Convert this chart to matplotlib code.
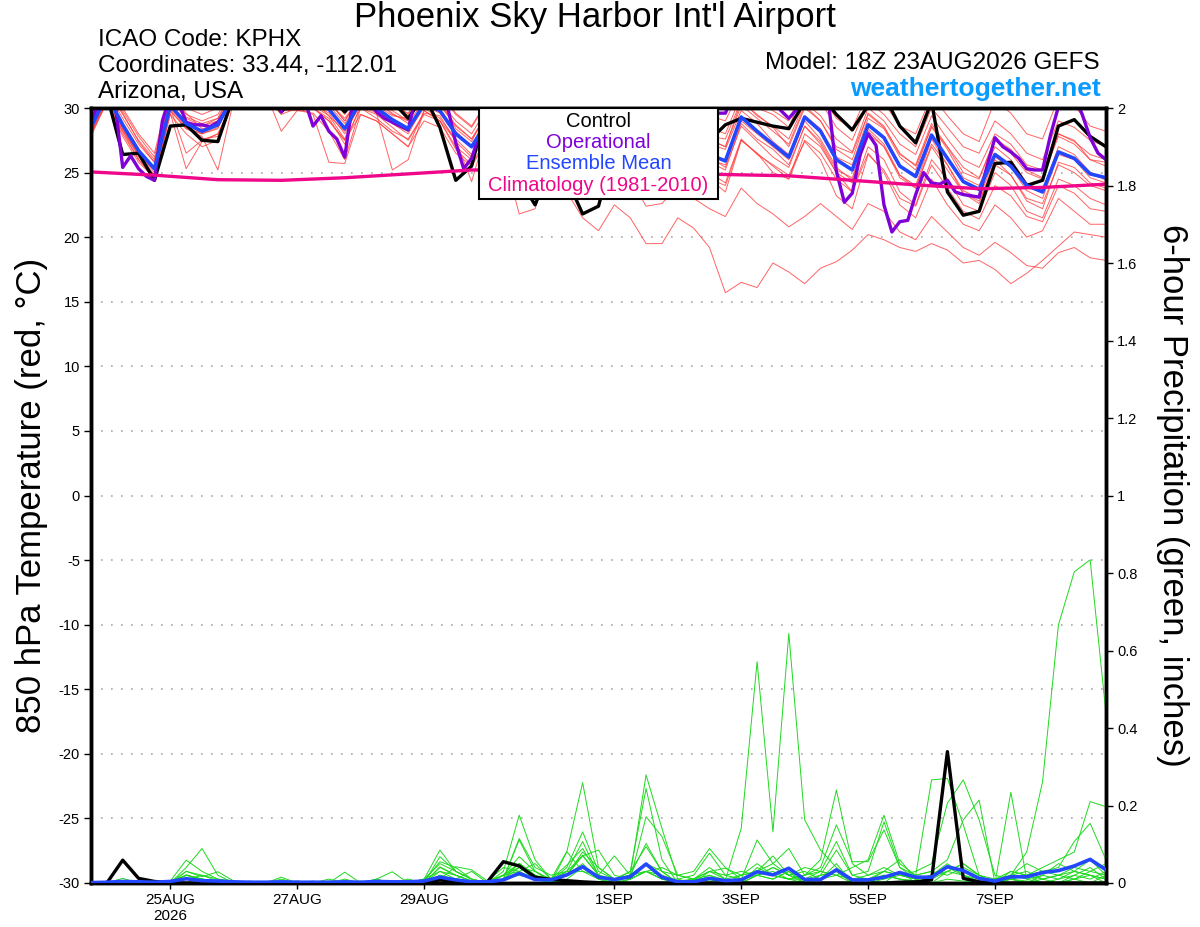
import numpy as np
import matplotlib
matplotlib.use('Agg')
import matplotlib.pyplot as plt
from matplotlib.patches import Rectangle

plt.rcParams['font.family'] = ['Liberation Sans', 'DejaVu Sans']
plt.rcParams['axes.unicode_minus'] = False

# ---- time axis: hours after 18Z 23AUG2026 ----
tick_hours = [30, 78, 126, 198, 246, 294, 342]
tick_labels = ['25AUG\n2026', '27AUG', '29AUG', '1SEP', '3SEP', '5SEP', '7SEP']

# ---- 850 hPa temperature (C), 6-hourly ----
t_control = [30.5, 31.0, 26.4, 26.5, 24.4, 28.6, 28.7, 27.5, 27.4, 31.0, 32.0, 31.5, 29.7,
             31.0, 31.0, 31.0, 29.7, 31.0, 31.0, 30.5, 29.2, 31.0, 28.5, 24.4, 25.5,
             30.5, 27.0, 24.5, 22.5, 25.5, 24.5, 21.8, 22.4, 27.0, 28.0, 26.5, 28.0,
             29.0, 28.5, 27.5, 28.7, 29.2, 28.9, 28.6, 28.4, 30.5, 31.0, 29.5, 28.3,
             30.2, 31.0, 28.6, 27.3, 30.5, 23.5, 21.7, 22.0, 25.7, 25.8, 24.0, 24.4,
             28.6, 29.1, 27.8, 27.0]
t_mean = [28.5, 31.0, 28.7, 26.7, 25.3, 30.2, 28.8, 28.2, 28.7, 31.0, 31.5, 31.5, 30.5,
          30.5, 30.5, 29.9, 28.4, 30.5, 30.0, 29.1, 28.4, 30.3, 29.8, 28.0, 27.0,
          29.0, 28.5, 27.2, 27.0, 28.0, 28.3, 27.0, 26.8, 28.0, 28.3, 27.0, 27.4,
          28.0, 27.2, 26.4, 25.9, 29.3, 28.2, 27.2, 26.2, 29.3, 28.2, 26.0, 25.2,
          28.7, 27.7, 25.5, 24.7, 27.9, 26.1, 24.3, 23.7, 26.4, 25.5, 24.0, 23.5,
          26.6, 26.1, 24.9, 24.6]

# operational run, 3-hourly
t_oper = [28.3, 31.0, 31.0, 30.5, 25.4, 26.3, 25.3, 24.7, 24.4, 29.0, 31.0, 30.5, 28.9,
          28.7, 28.7, 28.55, 28.9, 29.8, 31.0, 31.5, 32.0, 32.0, 31.5, 31.0, 29.7,
          31.0, 31.0, 30.5, 28.6, 29.4, 28.2, 27.6, 26.2, 30.5, 31.0, 30.5, 29.7,
          29.2, 28.9, 28.6, 28.3, 31.0, 31.5, 31.5, 31.0, 30.0, 27.3, 25.3, 26.1,
          28.0, 29.5, 30.0, 29.0, 28.0, 27.5, 27.0, 27.5, 28.5, 29.5, 29.8, 29.0,
          28.0, 27.0, 26.5, 27.0, 28.5, 29.5, 30.0, 29.0, 28.5, 27.5, 27.0, 28.0,
          29.5, 30.5, 30.5, 29.5, 29.0, 28.5, 29.6, 29.6, 31.0, 31.0, 31.0, 31.0,
          31.0, 30.5, 29.8, 29.2, 29.9, 31.0, 31.0, 31.0, 30.5, 25.1, 22.7, 23.4,
          26.4, 28.0, 27.1, 22.5, 20.4, 21.2, 21.3, 23.3, 25.0, 24.2, 24.1, 24.4,
          23.5, 23.3, 23.2, 23.1, 25.5, 27.7, 27.0, 26.6, 26.1, 25.3, 25.2, 25.2,
          27.9, 30.1, 31.0, 31.0, 29.5, 27.7, 26.5, 26.0]

# climatology (1981-2010), daily
t_clim = [25.05, 24.8, 24.45, 24.4, 24.6, 24.9, 25.2, 25.2, 25.0, 24.95, 24.85, 24.75,
          24.4, 24.05, 23.75, 23.85, 24.1]

# ensemble members
t_m01 = [29.5, 32.0, 30.0, 28.0, 26.5, 31.5, 30.0, 29.5, 30.0, 32.0, 32.5, 32.5, 31.5,
         31.5, 31.5, 31.0, 29.5, 31.5, 31.0, 30.5, 29.5, 31.5, 31.0, 29.5, 28.5,
         30.5, 30.0, 29.0, 28.5, 30.0, 30.5, 29.0, 28.5, 30.0, 30.5, 29.5, 29.5,
         30.5, 29.5, 28.5, 28.0, 31.0, 30.0, 29.5, 28.5, 31.5, 30.5, 28.5, 27.5,
         30.5, 29.5, 28.0, 27.0, 30.0, 28.5, 27.0, 26.5, 29.0, 28.0, 26.5, 26.0,
         29.0, 28.5, 27.5, 27.0]
t_m02 = [28.0, 30.5, 28.0, 26.0, 24.8, 30.0, 26.5, 27.5, 28.0, 30.5, 31.0, 31.0, 30.0,
         30.5, 30.0, 29.0, 27.5, 30.0, 29.5, 28.5, 27.5, 29.5, 29.0, 27.0, 26.0,
         28.0, 27.5, 26.0, 25.5, 27.0, 27.0, 25.5, 25.0, 27.0, 27.5, 26.0, 26.0,
         27.0, 26.0, 24.5, 23.5, 27.5, 26.5, 25.5, 24.5, 27.5, 26.5, 24.5, 23.5,
         27.0, 26.0, 23.5, 22.5, 26.0, 24.5, 22.5, 22.0, 25.0, 24.0, 22.0, 21.5,
         24.5, 24.0, 23.0, 22.5]
t_m03 = [28.5, 31.0, 28.5, 26.5, 25.0, 30.0, 28.5, 28.0, 28.5, 31.0, 31.0, 31.0, 30.0,
         30.0, 30.0, 29.0, 27.5, 29.5, 29.0, 28.0, 27.0, 29.0, 28.5, 26.5, 25.5,
         27.5, 26.5, 24.5, 23.5, 24.5, 23.5, 21.5, 20.5, 22.5, 21.5, 19.5, 19.5,
         21.5, 20.7, 19.2, 15.7, 16.5, 16.1, 18.0, 17.3, 16.4, 17.6, 18.1, 19.0,
         20.2, 19.8, 19.2, 18.9, 19.5, 19.0, 18.0, 18.2, 17.5, 16.4, 17.2, 18.2,
         19.3, 20.4, 20.2, 20.0]
t_m04 = [29.0, 31.5, 29.5, 27.5, 26.0, 31.0, 29.5, 29.0, 29.5, 31.5, 32.0, 32.0, 31.0,
         31.0, 31.0, 30.5, 29.0, 31.0, 30.5, 29.5, 29.0, 31.0, 30.5, 29.0, 28.0,
         30.0, 29.5, 28.0, 27.5, 29.0, 29.5, 28.0, 27.5, 29.0, 29.0, 28.0, 28.5,
         29.0, 28.0, 27.5, 27.0, 30.5, 29.5, 28.5, 27.0, 30.0, 29.0, 27.0, 26.5,
         29.5, 28.5, 26.5, 25.5, 28.5, 27.0, 25.0, 24.5, 27.5, 26.5, 25.0, 24.5,
         28.0, 27.5, 26.0, 25.5]
t_m05 = [28.0, 30.8, 28.2, 26.0, 24.5, 29.5, 28.0, 27.0, 27.5, 30.5, 31.0, 30.8, 29.5,
         30.0, 29.5, 25.8, 25.7, 29.5, 29.0, 28.0, 27.0, 29.8, 29.0, 27.5, 24.3,
         28.5, 26.5, 21.8, 22.2, 26.0, 26.5, 25.0, 24.5, 27.0, 26.5, 24.0, 25.0,
         26.5, 25.5, 24.5, 24.0, 27.5, 26.5, 25.0, 24.5, 28.0, 27.0, 25.0, 23.5,
         26.5, 25.0, 22.5, 21.5, 24.5, 22.5, 21.0, 20.5, 22.5, 21.5, 20.0, 20.5,
         23.0, 22.0, 21.0, 21.0]
t_m06 = [28.8, 31.3, 29.2, 27.2, 25.8, 30.8, 29.3, 28.8, 29.2, 31.2, 32.0, 31.8, 30.8,
         30.8, 31.0, 30.5, 29.0, 31.0, 30.5, 29.8, 29.0, 31.0, 30.3, 28.7, 27.6,
         29.6, 29.2, 28.3, 28.0, 29.0, 29.2, 28.0, 27.8, 29.2, 29.5, 28.5, 28.6,
         29.6, 28.6, 27.8, 27.6, 30.6, 29.4, 28.6, 27.6, 30.4, 29.4, 27.6, 26.6,
         30.0, 29.0, 27.2, 26.4, 29.4, 27.6, 26.0, 25.4, 28.0, 27.2, 25.6, 25.2,
         28.0, 27.4, 26.4, 26.0]
t_m07 = [27.8, 30.5, 27.8, 25.8, 24.6, 29.6, 25.3, 27.4, 28.0, 30.6, 31.2, 31.0, 29.8,
         29.8, 29.6, 28.2, 26.0, 30.0, 29.2, 28.2, 27.6, 29.6, 29.4, 27.4, 26.2,
         28.4, 27.8, 25.8, 25.6, 27.4, 27.6, 26.2, 26.0, 27.4, 27.8, 26.6, 26.8,
         27.6, 26.8, 26.0, 25.6, 29.0, 28.0, 27.0, 26.0, 29.0, 27.6, 25.4, 24.4,
         28.2, 27.0, 24.6, 23.8, 27.0, 25.2, 23.4, 22.8, 25.6, 24.8, 23.0, 22.6,
         25.6, 25.0, 24.0, 23.6]
t_m08 = [29.2, 31.6, 29.8, 27.8, 26.2, 31.2, 29.6, 28.4, 28.6, 31.4, 32.2, 32.4, 31.4,
         31.2, 30.6, 29.4, 27.6, 30.8, 30.2, 29.4, 29.2, 31.2, 30.6, 28.4, 27.4,
         29.8, 29.0, 27.6, 27.2, 28.6, 28.8, 27.2, 26.6, 28.4, 28.6, 26.6, 27.4,
         28.6, 27.8, 27.2, 26.8, 29.8, 28.8, 27.4, 26.4, 29.4, 28.4, 26.2, 25.6,
         29.2, 28.4, 26.2, 25.2, 28.6, 26.8, 24.6, 24.0, 27.0, 26.0, 24.2, 23.6,
         27.0, 26.4, 25.0, 24.4]
t_m09 = [28.4, 30.9, 28.6, 26.6, 25.4, 30.2, 28.6, 27.6, 27.8, 30.8, 31.4, 31.6, 30.6,
         30.6, 30.8, 30.2, 28.8, 30.6, 30.0, 28.8, 28.0, 30.2, 29.6, 28.0, 27.0,
         29.0, 28.6, 27.4, 27.0, 28.2, 28.4, 27.0, 26.6, 28.0, 28.4, 27.2, 27.2,
         28.2, 27.0, 25.8, 25.2, 28.8, 27.6, 26.8, 25.6, 28.6, 27.2, 25.0, 24.2,
         28.0, 27.0, 24.8, 24.0, 27.6, 25.6, 23.6, 23.0, 26.2, 25.4, 23.6, 23.0,
         26.4, 26.0, 24.6, 24.2]
t_m10 = [28.6, 31.2, 28.8, 26.8, 25.2, 30.4, 28.8, 28.0, 28.4, 31.0, 31.6, 31.4, 30.4,
         30.4, 30.4, 29.6, 28.0, 30.4, 29.8, 29.0, 28.2, 30.0, 29.2, 27.6, 26.4,
         28.4, 27.2, 25.4, 24.6, 26.2, 25.8, 24.2, 23.6, 25.2, 24.6, 22.4, 22.6,
         24.0, 23.0, 22.2, 21.6, 23.8, 22.6, 21.8, 20.8, 21.6, 22.6, 21.6, 20.6,
         22.6, 22.0, 20.4, 19.8, 21.6, 20.4, 19.2, 18.6, 19.6, 18.8, 17.8, 17.6,
         18.8, 19.2, 18.4, 18.2]
t_m11 = [28.2, 30.6, 28.4, 26.4, 24.8, 30.0, 28.8, 28.6, 29.0, 31.2, 31.8, 31.6, 30.6,
         30.6, 31.0, 30.4, 29.2, 30.8, 30.6, 29.6, 28.8, 30.6, 30.2, 28.6, 27.6,
         29.6, 29.6, 28.6, 28.4, 29.6, 29.8, 28.6, 28.2, 29.6, 30.0, 28.4, 28.0,
         29.2, 28.4, 27.6, 27.0, 30.2, 29.2, 28.2, 27.2, 30.2, 29.0, 26.8, 26.0,
         29.6, 28.6, 26.4, 25.6, 28.8, 27.0, 25.4, 24.6, 27.6, 26.8, 25.2, 24.6,
         27.8, 27.2, 26.0, 25.8]
t_m12 = [28.6, 31.0, 28.4, 26.2, 24.7, 29.8, 28.4, 28.0, 28.8, 31.0, 31.2, 31.0, 30.2,
         30.2, 30.2, 29.4, 28.2, 30.2, 29.8, 28.8, 28.2, 30.4, 29.8, 28.2, 27.0,
         28.8, 28.4, 27.2, 26.8, 28.0, 28.4, 26.8, 26.6, 28.2, 28.4, 26.8, 26.4,
         27.6, 26.8, 26.2, 25.4, 28.6, 27.4, 26.2, 25.4, 28.6, 27.4, 25.2, 24.6,
         28.4, 27.2, 24.8, 23.8, 27.2, 25.6, 23.4, 22.6, 26.0, 24.8, 22.8, 22.2,
         25.8, 25.4, 24.2, 23.8]
t_m13 = [29.4, 31.8, 29.6, 27.4, 25.8, 30.6, 29.2, 28.6, 29.2, 31.6, 32.4, 32.2, 31.2,
         31.4, 31.4, 30.8, 29.6, 31.4, 31.2, 30.2, 29.6, 31.6, 31.2, 29.6, 28.6,
         30.6, 30.4, 29.2, 28.8, 30.2, 30.6, 29.4, 29.2, 30.6, 30.8, 29.6, 29.4,
         30.8, 30.0, 29.4, 29.0, 31.6, 30.8, 29.8, 29.0, 31.8, 31.0, 29.2, 28.4,
         31.2, 30.4, 28.6, 28.0, 31.0, 29.4, 28.0, 27.4, 30.6, 29.6, 28.0, 27.6,
         30.8, 30.2, 28.6, 28.2]
t_m14 = [28.0, 30.4, 28.2, 26.4, 25.2, 29.8, 28.4, 27.8, 25.2, 30.6, 31.4, 31.2, 28.2,
         29.8, 30.0, 29.2, 27.2, 30.2, 29.6, 25.2, 26.0, 29.8, 29.0, 26.8, 25.6,
         27.8, 27.4, 26.2, 25.8, 27.2, 27.0, 25.2, 24.4, 26.4, 26.8, 25.2, 25.6,
         26.8, 26.0, 25.0, 24.2, 27.6, 26.4, 25.6, 24.8, 27.4, 26.0, 23.2, 22.2,
         26.4, 25.2, 23.0, 22.4, 25.6, 23.8, 22.0, 21.4, 24.0, 23.2, 21.6, 21.2,
         24.0, 23.4, 22.2, 22.0]

# ---- 6-hour precipitation (inches) ----
p_control = [0, 0, 0.059, 0.012, 0.004, 0.001, 0, 0, 0, 0, 0, 0, 0,
             0, 0, 0, 0, 0, 0, 0, 0, 0, 0.008, 0.002, 0,
             0.003, 0.055, 0.044, 0.015, 0.009, 0.006, 0.003, 0.001, 0, 0, 0, 0,
             0, 0, 0, 0, 0, 0, 0, 0, 0, 0, 0, 0,
             0, 0, 0.002, 0.003, 0.008, 0.339, 0.012, 0.003, 0, 0, 0, 0,
             0, 0, 0, 0]
p_mean = [0.001, 0.002, 0.004, 0.003, 0.002, 0.004, 0.011, 0.006, 0.005, 0.003, 0.002, 0.002, 0.003,
          0.002, 0.002, 0.002, 0.003, 0.002, 0.004, 0.003, 0.003, 0.005, 0.015, 0.008, 0.003,
          0.003, 0.008, 0.025, 0.009, 0.008, 0.021, 0.042, 0.015, 0.009, 0.016, 0.049, 0.015,
          0.003, 0.003, 0.012, 0.006, 0.008, 0.029, 0.021, 0.038, 0.009, 0.009, 0.034, 0.008,
          0.008, 0.015, 0.027, 0.015, 0.015, 0.042, 0.032, 0.012, 0.005, 0.016, 0.016, 0.027,
          0.032, 0.044, 0.061, 0.034]

p_m01 = [0, 0, 0, 0, 0, 0, 0.02, 0.01, 0, 0, 0, 0, 0,
         0, 0, 0, 0, 0, 0, 0, 0, 0.01, 0.03, 0.01, 0,
         0, 0.02, 0.05, 0.02, 0, 0.08, 0.259, 0.04, 0.01, 0.02, 0.05, 0.02,
         0, 0.01, 0.01, 0, 0.02, 0.05, 0.02, 0.01, 0, 0.02, 0.03, 0,
         0, 0.01, 0.02, 0.01, 0, 0, 0, 0, 0, 0.02, 0.08, 0.261,
         0.666, 0.803, 0.834, 0.438]
p_m02 = [0, 0, 0.005, 0, 0, 0, 0.01, 0.005, 0, 0, 0, 0, 0,
         0, 0, 0, 0.005, 0, 0, 0, 0, 0, 0.02, 0.005, 0,
         0, 0.01, 0.04, 0.01, 0, 0.02, 0.07, 0.02, 0.005, 0.03, 0.094, 0.03,
         0, 0.01, 0.02, 0.008, 0.141, 0.571, 0.132, 0.644, 0.163, 0.085, 0.04, 0.01,
         0, 0.02, 0.01, 0, 0, 0.01, 0.005, 0, 0, 0.01, 0, 0.01,
         0.02, 0.01, 0.02, 0.01]
p_m03 = [0, 0, 0.012, 0, 0, 0, 0.03, 0.02, 0.005, 0, 0, 0, 0,
         0, 0, 0, 0, 0, 0.005, 0, 0, 0, 0.03, 0.02, 0.005,
         0, 0.03, 0.175, 0.06, 0.01, 0.02, 0.05, 0.01, 0, 0.02, 0.279, 0.141,
         0.01, 0, 0.02, 0, 0, 0.02, 0.01, 0.03, 0, 0.01, 0.05, 0,
         0, 0.02, 0.01, 0.005, 0, 0.03, 0.02, 0, 0, 0.01, 0, 0.02,
         0.01, 0.03, 0.02, 0]
p_m04 = [0, 0, 0, 0, 0, 0.005, 0.02, 0.01, 0, 0, 0, 0, 0,
         0, 0.005, 0, 0.01, 0, 0, 0.005, 0, 0.01, 0.085, 0.03, 0.01,
         0, 0.02, 0.04, 0.03, 0.005, 0.04, 0.132, 0.03, 0.01, 0.03, 0.244, 0.06,
         0, 0, 0.03, 0.01, 0, 0.04, 0.02, 0.01, 0.01, 0.03, 0.02, 0,
         0, 0, 0.03, 0, 0.02, 0.05, 0.02, 0.005, 0, 0.02, 0.01, 0,
         0, 0.02, 0.01, 0.03]
p_m05 = [0, 0, 0.005, 0.005, 0, 0.005, 0.059, 0.03, 0.01, 0.005, 0, 0, 0.01,
         0, 0, 0.005, 0, 0, 0.01, 0, 0.005, 0, 0.04, 0.02, 0.005,
         0.005, 0.04, 0.03, 0.05, 0.01, 0.03, 0.107, 0.02, 0, 0.01, 0.171, 0.12,
         0.02, 0.01, 0.04, 0.01, 0.02, 0.03, 0.05, 0.02, 0, 0.02, 0.03, 0.01,
         0.005, 0.03, 0.02, 0.01, 0.02, 0.03, 0.05, 0.02, 0, 0.01, 0.02, 0.01,
         0, 0.01, 0.03, 0.02]
p_m06 = [0, 0, 0, 0, 0, 0, 0.04, 0.089, 0.02, 0, 0, 0, 0,
         0, 0, 0.01, 0, 0, 0, 0, 0, 0, 0.02, 0.01, 0.03,
         0, 0.01, 0.115, 0.04, 0.02, 0.03, 0.03, 0.01, 0, 0.01, 0.03, 0.02,
         0.005, 0.01, 0.03, 0.02, 0.01, 0.03, 0.02, 0.01, 0.02, 0.06, 0.24, 0.05,
         0.02, 0.03, 0.02, 0.02, 0.266, 0.270, 0.15, 0.02, 0, 0.01, 0.02, 0,
         0, 0.01, 0, 0.02]
p_m07 = [0, 0, 0, 0, 0, 0, 0.02, 0.01, 0.005, 0, 0.005, 0, 0.015,
         0, 0, 0, 0, 0.005, 0, 0, 0, 0.01, 0.05, 0.03, 0.01,
         0, 0.02, 0.05, 0.02, 0, 0.02, 0.08, 0.04, 0.01, 0.02, 0.05, 0.03,
         0, 0.01, 0.01, 0, 0, 0.02, 0.04, 0.02, 0.04, 0.03, 0.02, 0.01,
         0.02, 0.04, 0.02, 0.03, 0.05, 0.206, 0.266, 0.163, 0.02, 0.01, 0.005, 0,
         0.01, 0.02, 0.04, 0.01]
p_m08 = [0, 0, 0, 0, 0, 0, 0.01, 0.02, 0.01, 0, 0, 0, 0,
         0.005, 0, 0, 0.028, 0, 0, 0, 0.01, 0, 0.01, 0.042, 0.034,
         0.005, 0.02, 0.03, 0.01, 0, 0.03, 0.07, 0.085, 0.02, 0.01, 0.03, 0.01,
         0, 0.01, 0.005, 0.005, 0.01, 0.02, 0.04, 0.02, 0.03, 0.01, 0.02, 0.04,
         0.06, 0.175, 0.05, 0.02, 0.03, 0.06, 0.163, 0.214, 0, 0.02, 0.03, 0.01,
         0.02, 0.03, 0.02, 0.01]
p_m09 = [0, 0, 0, 0, 0, 0, 0.03, 0.016, 0.029, 0.005, 0, 0, 0,
         0, 0, 0, 0, 0, 0.01, 0.029, 0, 0, 0.068, 0.03, 0.01,
         0, 0.01, 0.111, 0.03, 0.01, 0.046, 0.089, 0.02, 0.01, 0.02, 0.102, 0.03,
         0.02, 0.03, 0.089, 0.04, 0.01, 0.111, 0.05, 0.089, 0.02, 0.03, 0.107, 0.02,
         0.01, 0.03, 0.06, 0.01, 0.02, 0.04, 0.02, 0.01, 0, 0.234, 0.01, 0.02,
         0.05, 0.03, 0.06, 0.02]
p_m10 = [0, 0, 0, 0, 0, 0, 0.021, 0.01, 0.005, 0, 0, 0, 0,
         0.005, 0, 0, 0, 0, 0, 0.005, 0, 0.005, 0.055, 0.04, 0.01,
         0, 0.02, 0.068, 0.03, 0.005, 0.02, 0.072, 0.02, 0.07, 0.02, 0.03, 0.01,
         0.01, 0.02, 0.077, 0.02, 0.03, 0.02, 0.03, 0.01, 0.02, 0.04, 0.15, 0.055,
         0.055, 0.137, 0.04, 0.01, 0.02, 0.04, 0.03, 0.01, 0.01, 0.03, 0.02, 0.04,
         0.06, 0.08, 0.21, 0.197]
p_m11 = [0, 0, 0, 0, 0, 0, 0.01, 0.01, 0, 0, 0, 0, 0,
         0, 0, 0, 0, 0, 0, 0, 0, 0, 0.042, 0.02, 0.005,
         0, 0.01, 0.051, 0.02, 0.01, 0.081, 0.03, 0.02, 0.01, 0.02, 0.03, 0.04,
         0.02, 0.01, 0.03, 0.038, 0.02, 0.03, 0.07, 0.02, 0.01, 0.02, 0.085, 0.02,
         0.03, 0.158, 0.04, 0.02, 0.03, 0.02, 0.04, 0.02, 0.01, 0.02, 0.05, 0.03,
         0.04, 0.107, 0.154, 0.06]
p_m12 = [0, 0, 0, 0, 0, 0, 0.01, 0.005, 0, 0, 0, 0, 0,
         0, 0, 0, 0.005, 0, 0, 0, 0.005, 0, 0.01, 0.01, 0,
         0, 0.01, 0.02, 0.01, 0, 0.01, 0.04, 0.01, 0, 0.01, 0.03, 0.01,
         0, 0, 0.01, 0, 0, 0.02, 0.01, 0.03, 0, 0.01, 0.03, 0.01,
         0.01, 0.02, 0.01, 0.005, 0.01, 0.03, 0.05, 0.02, 0, 0.03, 0.02, 0.03,
         0.02, 0.04, 0.03, 0.05]

temp_members = [t_m01, t_m02, t_m03, t_m04, t_m05, t_m06, t_m07,
                t_m08, t_m09, t_m10, t_m11, t_m12, t_m13, t_m14]
precip_members = [p_m01, p_m02, p_m03, p_m04, p_m05, p_m06,
                  p_m07, p_m08, p_m09, p_m10, p_m11, p_m12]

# colours
RED = '#FF3C3C'
GREEN = '#1ED91E'
PURPLE = '#8000D8'
BLUE = '#2346FF'
MAGENTA = '#F0068A'

fig = plt.figure(figsize=(12, 9.27), dpi=100)
ax = fig.add_axes([91 / 1200, 1 - 883 / 927, (1106 - 91) / 1200, (883 - 108) / 927])
ax2 = ax.twinx()

# temperature
for m in temp_members:
    ax.plot(np.arange(len(m)) * 6, m, color=RED, lw=0.7, alpha=0.8, zorder=2)
ax.plot(np.arange(len(t_control)) * 6, t_control, color='black', lw=2.4, zorder=4)
ax.plot(np.arange(len(t_mean)) * 6, t_mean, color=BLUE, lw=2.6, zorder=5)
ax.plot(np.arange(len(t_oper)) * 3, t_oper, color=PURPLE, lw=2.4, zorder=4)
ax.plot(np.arange(len(t_clim)) * 24, t_clim, color=MAGENTA, lw=2.4, zorder=6)

# precipitation
for m in precip_members:
    ax2.plot(np.arange(len(m)) * 6, m, color=GREEN, lw=0.7, zorder=2)
ax2.plot(np.arange(len(p_control)) * 6, p_control, color='black', lw=2.4, zorder=4)
ax2.plot(np.arange(len(p_mean)) * 6, p_mean, color=BLUE, lw=2.6, zorder=5)

ax.set_xlim(0, 384)
ax.set_ylim(-30, 30)
ax2.set_ylim(0, 2)
ax.set_yticks(np.arange(-30, 31, 5))
ax2.set_yticks(np.arange(0, 2.01, 0.2))
ax2.set_yticklabels(['%g' % v for v in np.arange(0, 2.01, 0.2)])
ax.set_xticks(tick_hours)
ax.set_xticklabels(tick_labels)

ax.yaxis.grid(True, color='#A8A8A8', lw=1.2, linestyle=(0, (1, 5)))
ax.set_axisbelow(True)

ax.tick_params(axis='y', direction='out', length=5, width=1, labelsize=10.5, pad=3)
ax.tick_params(axis='x', direction='out', length=4, width=1, labelsize=11, pad=3)
ax2.tick_params(axis='y', direction='out', length=5, width=1, labelsize=10.5, pad=3)
for a in (ax, ax2):
    for s in a.spines.values():
        s.set_linewidth(2.5)

# legend box
ax2.add_patch(Rectangle((0.3826, 0.8826), 0.2348, 0.1174, transform=ax2.transAxes,
                        facecolor='white', edgecolor='black', lw=1.5, zorder=10,
                        clip_on=False))
legend_items = [('Control', 'black', 0.9832), ('Operational', PURPLE, 0.9561),
                ('Ensemble Mean', BLUE, 0.9290), ('Climatology (1981-2010)', MAGENTA, 0.9006)]
for txt, col, yy in legend_items:
    ax2.text(0.5, yy, txt, color=col, fontsize=14.5, ha='center', va='center',
             transform=ax2.transAxes, zorder=11)

# axis titles
fig.text(32 / 1200, 1 - 495 / 927, '850 hPa Temperature (red, \u00b0C)', rotation=90,
         fontsize=25, ha='center', va='center')
fig.text(1172 / 1200, 1 - 495 / 927, '6-hour Precipitation (green, inches)', rotation=270,
         fontsize=25, ha='center', va='center')

# header
fig.text(595 / 1200, 1 - 18 / 927, "Phoenix Sky Harbor Int'l Airport", fontsize=25,
         ha='center', va='center')
fig.text(98 / 1200, 1 - 40 / 927, 'ICAO Code: KPHX', fontsize=17.5, ha='left', va='center')
fig.text(98 / 1200, 1 - 66 / 927, 'Coordinates: 33.44, -112.01', fontsize=17.5,
         ha='left', va='center')
fig.text(98 / 1200, 1 - 92 / 927, 'Arizona, USA', fontsize=17.5, ha='left', va='center')
fig.text(1100 / 1200, 1 - 63 / 927, 'Model: 18Z 23AUG2026 GEFS', fontsize=17.5,
         ha='right', va='center')
fig.text(1101 / 1200, 1 - 89 / 927, 'weathertogether.net', fontsize=19, fontweight='bold',
         color='#0A9BFF', ha='right', va='center')

fig.savefig('out.png', dpi=100, facecolor='white')
